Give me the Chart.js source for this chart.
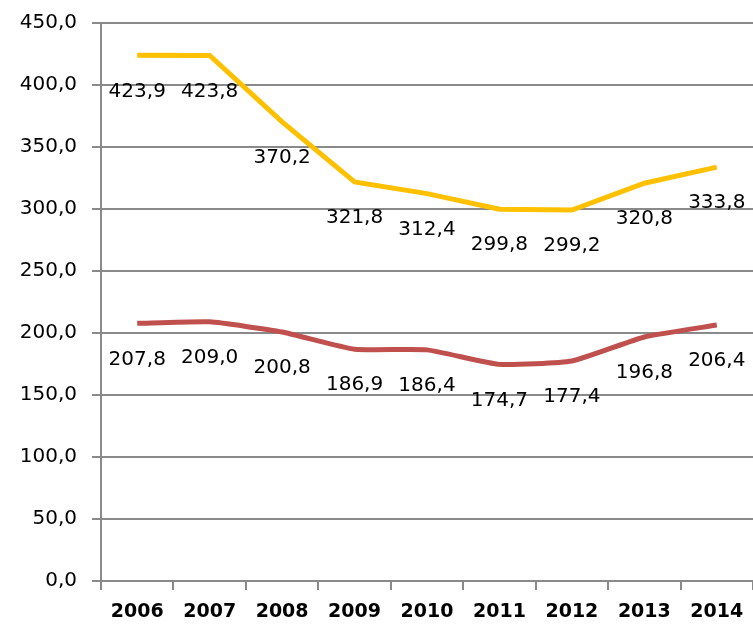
<!DOCTYPE html>
<html>
<head>
<meta charset="utf-8">
<script src="https://cdn.jsdelivr.net/npm/chart.js@4/dist/chart.umd.min.js"></script>
<style>
  html, body { margin: 0; padding: 0; background: #ffffff; }
  #wrap { width: 753px; height: 625px; position: relative; }
</style>
</head>
<body>
<div id="wrap"><canvas id="c" width="753" height="625"></canvas></div>
<script>
const years = ['2006', '2007', '2008', '2009', '2010', '2011', '2012', '2013', '2014'];
const seriesYellow = [423.9, 423.8, 370.2, 321.8, 312.4, 299.8, 299.2, 320.8, 333.8];
const seriesRed = [207.8, 209.0, 200.8, 186.9, 186.4, 174.7, 177.4, 196.8, 206.4];
const yMin = 0, yMax = 450, yStep = 50;

const fmt = v => Number(v).toFixed(1).replace('.', ',');

const labelPlugin = {
  id: 'valueLabels',
  afterDatasetsDraw(chart) {
    const ctx = chart.ctx;
    ctx.save();
    ctx.font = '20px "DejaVu Sans"';
    ctx.fillStyle = '#000000';
    ctx.textAlign = 'center';
    ctx.textBaseline = 'middle';
    chart.data.datasets.forEach((ds, di) => {
      const meta = chart.getDatasetMeta(di);
      meta.data.forEach((pt, i) => {
        ctx.fillText(fmt(ds.data[i]), pt.x, pt.y + 36);
      });
    });
    ctx.restore();
  }
};

new Chart(document.getElementById('c'), {
  type: 'line',
  data: {
    labels: years,
    datasets: [
      { data: seriesYellow, borderColor: '#FFC000', borderWidth: 5, pointRadius: 0, tension: 0, fill: false },
      { data: seriesRed, borderColor: '#C0504D', borderWidth: 5, pointRadius: 0, tension: 0.15, fill: false }
    ]
  },
  options: {
    responsive: false,
    animation: false,
    events: [],
    layout: { padding: { top: 23, right: 0, bottom: 0, left: 0 } },
    plugins: { legend: { display: false }, tooltip: { enabled: false } },
    scales: {
      x: {
        type: 'category',
        offset: true,
        grid: { offset: true, drawOnChartArea: false, drawTicks: true, tickLength: 9, color: '#8a8a8a', lineWidth: 2 },
        border: { display: true, color: '#8a8a8a', width: 2 },
        ticks: { color: '#000000', font: { family: 'DejaVu Sans', size: 19, weight: 'bold' }, padding: 11, maxRotation: 0, autoSkip: false },
        afterFit(s) { s.height = 44; s.paddingLeft = 0; s.paddingRight = 0; }
      },
      y: {
        min: yMin, max: yMax,
        grid: { drawTicks: true, tickLength: 9, color: '#8a8a8a', lineWidth: 2 },
        border: { display: true, color: '#8a8a8a', width: 2 },
        ticks: { stepSize: yStep, color: '#000000', font: { family: 'DejaVu Sans', size: 20 }, padding: 15, callback: v => fmt(v) },
        afterFit(s) { s.width = 101; s.paddingTop = 0; s.paddingBottom = 0; }
      }
    }
  },
  plugins: [labelPlugin]
});
</script>
</body>
</html>
